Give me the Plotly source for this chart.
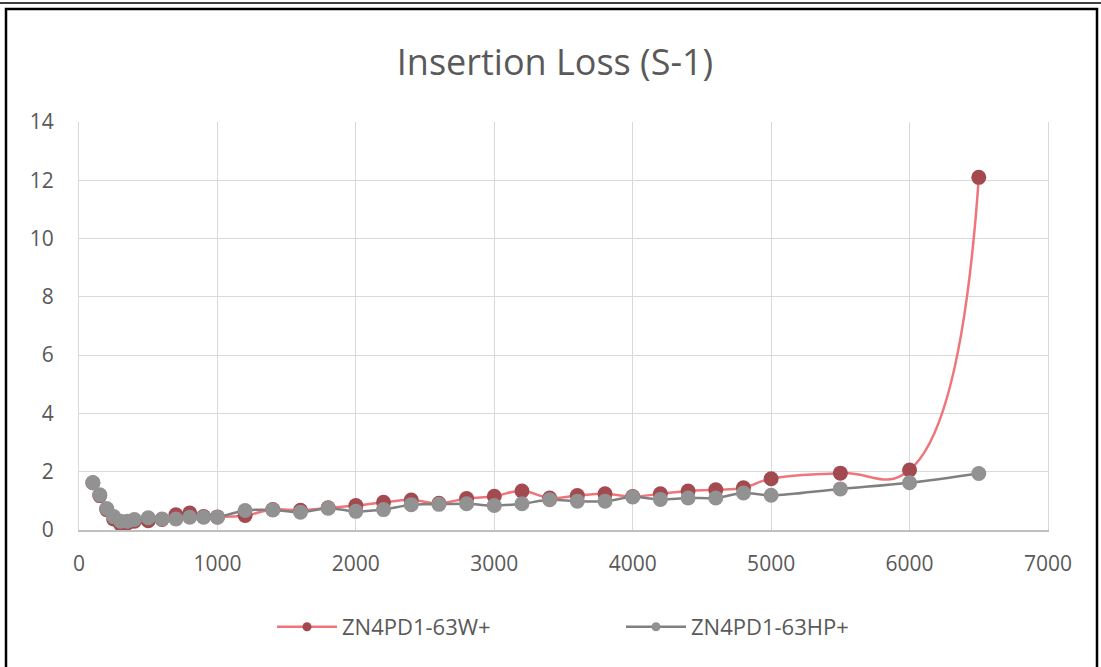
import plotly.graph_objects as go

freq = [100, 150, 200, 250, 300, 350, 400, 500, 600, 700, 800, 900, 1000,
        1200, 1400, 1600, 1800, 2000, 2200, 2400, 2600, 2800, 3000, 3200,
        3400, 3600, 3800, 4000, 4200, 4400, 4600, 4800, 5000, 5500, 6000, 6500]

loss_w = [1.62, 1.18, 0.70, 0.38, 0.20, 0.24, 0.30, 0.32, 0.36, 0.52, 0.58, 0.46, 0.45,
          0.50, 0.70, 0.68, 0.76, 0.84, 0.95, 1.03, 0.92, 1.08, 1.16, 1.34,
          1.10, 1.18, 1.24, 1.15, 1.24, 1.34, 1.38, 1.45, 1.76, 1.95, 2.06, 12.1]

loss_hp = [1.62, 1.21, 0.74, 0.46, 0.30, 0.30, 0.36, 0.42, 0.38, 0.38, 0.44, 0.44, 0.44,
           0.67, 0.69, 0.61, 0.75, 0.64, 0.70, 0.87, 0.88, 0.90, 0.84, 0.90,
           1.04, 0.99, 0.99, 1.13, 1.05, 1.10, 1.10, 1.27, 1.19, 1.41, 1.62, 1.94]

series_names = ["ZN4PD1-63W+", "ZN4PD1-63HP+"]
x_ticks = [0, 1000, 2000, 3000, 4000, 5000, 6000, 7000]
y_ticks = [0, 2, 4, 6, 8, 10, 12, 14]

RED_LINE = "rgb(238,118,122)"
RED_MARK = "rgb(162,74,80)"
GRAY_LINE = "rgb(128,128,128)"
GRAY_MARK = "rgb(146,146,146)"
FONT = "Open Sans"
TXT = "#595959"

W, H = 1101, 667
L, R, T, B = 79, 1048, 122, 530

fig = go.Figure()

# legend-only entries (small markers like the reference legend)
fig.add_trace(go.Scatter(x=[None], y=[None], mode="lines+markers", name=series_names[0],
                         line=dict(color=RED_LINE, width=2.5),
                         marker=dict(color=RED_MARK, size=9)))
fig.add_trace(go.Scatter(x=[None], y=[None], mode="lines+markers", name=series_names[1],
                         line=dict(color=GRAY_LINE, width=2.5),
                         marker=dict(color=GRAY_MARK, size=9)))

fig.add_trace(go.Scatter(x=freq, y=loss_w, mode="lines+markers", showlegend=False,
                         line=dict(color=RED_LINE, width=2.5, shape="spline", smoothing=1.3),
                         marker=dict(color=RED_MARK, size=15)))
fig.add_trace(go.Scatter(x=freq, y=loss_hp, mode="lines+markers", showlegend=False,
                         line=dict(color=GRAY_LINE, width=2.5, shape="spline", smoothing=1),
                         marker=dict(color=GRAY_MARK, size=15)))

def px_x(p):
    return (p - L) / (R - L)

def px_y(p):
    return (B - p) / (B - T)

shapes = [
    # thin rule at very top (remnant of page text line)
    dict(type="line", xref="paper", yref="paper", x0=px_x(0), x1=px_x(W),
         y0=px_y(3), y1=px_y(3), line=dict(color="black", width=1.5)),
    # chart frame
    dict(type="rect", xref="paper", yref="paper", x0=px_x(6), x1=px_x(1097),
         y0=px_y(700), y1=px_y(9), line=dict(color="black", width=2.5)),
]

fig.update_layout(
    width=W, height=H,
    margin=dict(l=L, r=W - R, t=T, b=H - B, pad=0),
    paper_bgcolor="white", plot_bgcolor="white",
    font=dict(family=FONT, color=TXT, size=20),
    title=dict(text="Insertion Loss (S-1)", x=555 / W, xanchor="center",
               y=1 - 62 / H, yanchor="middle", xref="container", yref="container",
               font=dict(family=FONT, size=36, color=TXT)),
    showlegend=True,
    legend=dict(orientation="h", x=px_x(272), xanchor="left", y=px_y(627), yanchor="middle",
                font=dict(family=FONT, size=22, color=TXT),
                itemwidth=60,
                entrywidth=274, entrywidthmode="pixels", bgcolor="rgba(0,0,0,0)"),
    shapes=shapes,
    xaxis=dict(range=[0, 7000], tickvals=x_ticks, ticktext=[str(v) for v in x_ticks],
               showgrid=True, gridcolor="#D9D9D9", gridwidth=1,
               showline=True, linecolor="#BFBFBF", linewidth=1.5,
               zeroline=False, ticks="outside", ticklen=14, tickcolor="rgba(0,0,0,0)",
               tickfont=dict(family=FONT, size=21, color=TXT)),
    yaxis=dict(range=[0, 14], tickvals=y_ticks, ticktext=[str(v) for v in y_ticks],
               showgrid=True, gridcolor="#D9D9D9", gridwidth=1,
               showline=True, mirror=True, linecolor="#D9D9D9", linewidth=1,
               zeroline=False,
               ticks="outside", ticklen=20, tickcolor="rgba(0,0,0,0)",
               tickfont=dict(family=FONT, size=21, color=TXT)),
)

fig.write_html("out.html", config={"displayModeBar": False},
               post_script="document.body.style.margin='0px';")
